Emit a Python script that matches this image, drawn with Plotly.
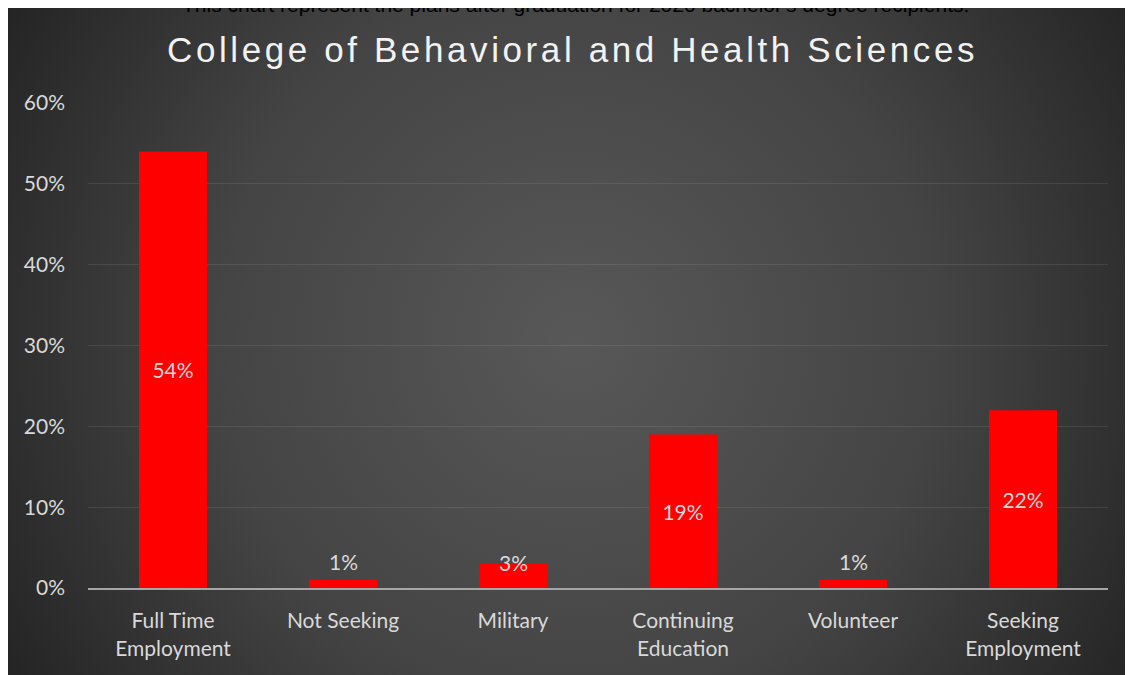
import base64
import plotly.graph_objects as go

# data
categories = ["Full Time<br>Employment", "Not Seeking", "Military",
              "Continuing<br>Education", "Volunteer", "Seeking<br>Employment"]
shares = [0.54, 0.01, 0.03, 0.19, 0.01, 0.22]
inside_label = [True, False, False, True, False, True]
y_ticks = [0, 0.1, 0.2, 0.3, 0.4, 0.5, 0.6]
y_tick_text = ["0%", "10%", "20%", "30%", "40%", "50%", "60%"]

W, H = 1133, 675
L, R, T, B = 80, 33, 95, 95
pw, ph = W - L - R, H - T - B


def px_x(x):
    return (x - L) / pw


def px_y(y):
    return (H - B - y) / ph


# dark radial background as an svg image covering the whole paper
svg = f"""<svg xmlns='http://www.w3.org/2000/svg' width='{W}' height='{H}' viewBox='0 0 {W} {H}' preserveAspectRatio='none'>
<defs><radialGradient id='g' gradientUnits='userSpaceOnUse' cx='567' cy='332' r='660'>
<stop offset='0' stop-color='#585858'/><stop offset='0.55' stop-color='#444444'/><stop offset='1' stop-color='#242424'/>
</radialGradient></defs><rect width='{W}' height='{H}' fill='url(#g)'/></svg>"""
bg_src = "data:image/svg+xml;base64," + base64.b64encode(svg.encode()).decode()

label_font = dict(family="Lato", size=21, color="#d9d9d9")

fig = go.Figure()
fig.add_trace(go.Bar(
    x=categories, y=shares,
    marker=dict(color="#ff0000", line=dict(width=0)),
    text=[f"{v:.0%}" if ins else "" for v, ins in zip(shares, inside_label)],
    textposition="inside",
    insidetextanchor="middle",
    textfont=label_font,
    width=0.4,
))

# small bars get their label above the bar (excel puts 3% right on the top edge)
for cat, v, ins in zip(categories, shares, inside_label):
    if ins:
        continue
    fig.add_annotation(
        x=cat, y=v, text=f"{v:.0%}", showarrow=False,
        yanchor="middle", yshift=18 if v < 0.02 else 1, font=label_font,
    )

fig.add_layout_image(dict(
    source=bg_src, xref="paper", yref="paper",
    x=px_x(0), y=px_y(0), sizex=px_x(W) - px_x(0), sizey=px_y(0) - px_y(H),
    xanchor="left", yanchor="top", sizing="stretch", layer="below",
))

fig.add_annotation(
    text="This chart represent the plans after graduation for 2020 bachelor's degree recipients.",
    xref="paper", yref="paper", x=px_x(567), y=px_y(-4),
    xanchor="center", yanchor="middle", showarrow=False,
    font=dict(family="Liberation Sans", size=21, color="#000000"),
)
fig.add_annotation(
    text="<span style='letter-spacing:3.6px'>College of Behavioral and Health Sciences</span>",
    xref="paper", yref="paper", x=px_x(564), y=px_y(42),
    xanchor="center", yanchor="middle", showarrow=False,
    font=dict(family="Liberation Sans", size=35, color="#f2f2f2"),
)

fig.update_layout(
    width=W, height=H,
    margin=dict(l=L, r=R, t=T, b=B),
    paper_bgcolor="#262626",
    plot_bgcolor="rgba(0,0,0,0)",
    showlegend=False,
    xaxis=dict(
        showgrid=False, showline=True, linecolor="#a6a6a6", linewidth=2,
        ticks="", tickfont=dict(family="Lato", size=21, color="#d9d9d9"),
        ticklabelstandoff=13, fixedrange=True,
    ),
    yaxis=dict(
        range=[0, 0.6], tickvals=y_ticks, ticktext=y_tick_text,
        showgrid=True, gridcolor="rgba(255,255,255,0.09)", gridwidth=1,
        zeroline=False, showline=False, ticks="",
        tickfont=dict(family="Lato", size=21, color="#d9d9d9"),
        ticklabelstandoff=22, fixedrange=True,
    ),
)

fig.write_html("out.html")
